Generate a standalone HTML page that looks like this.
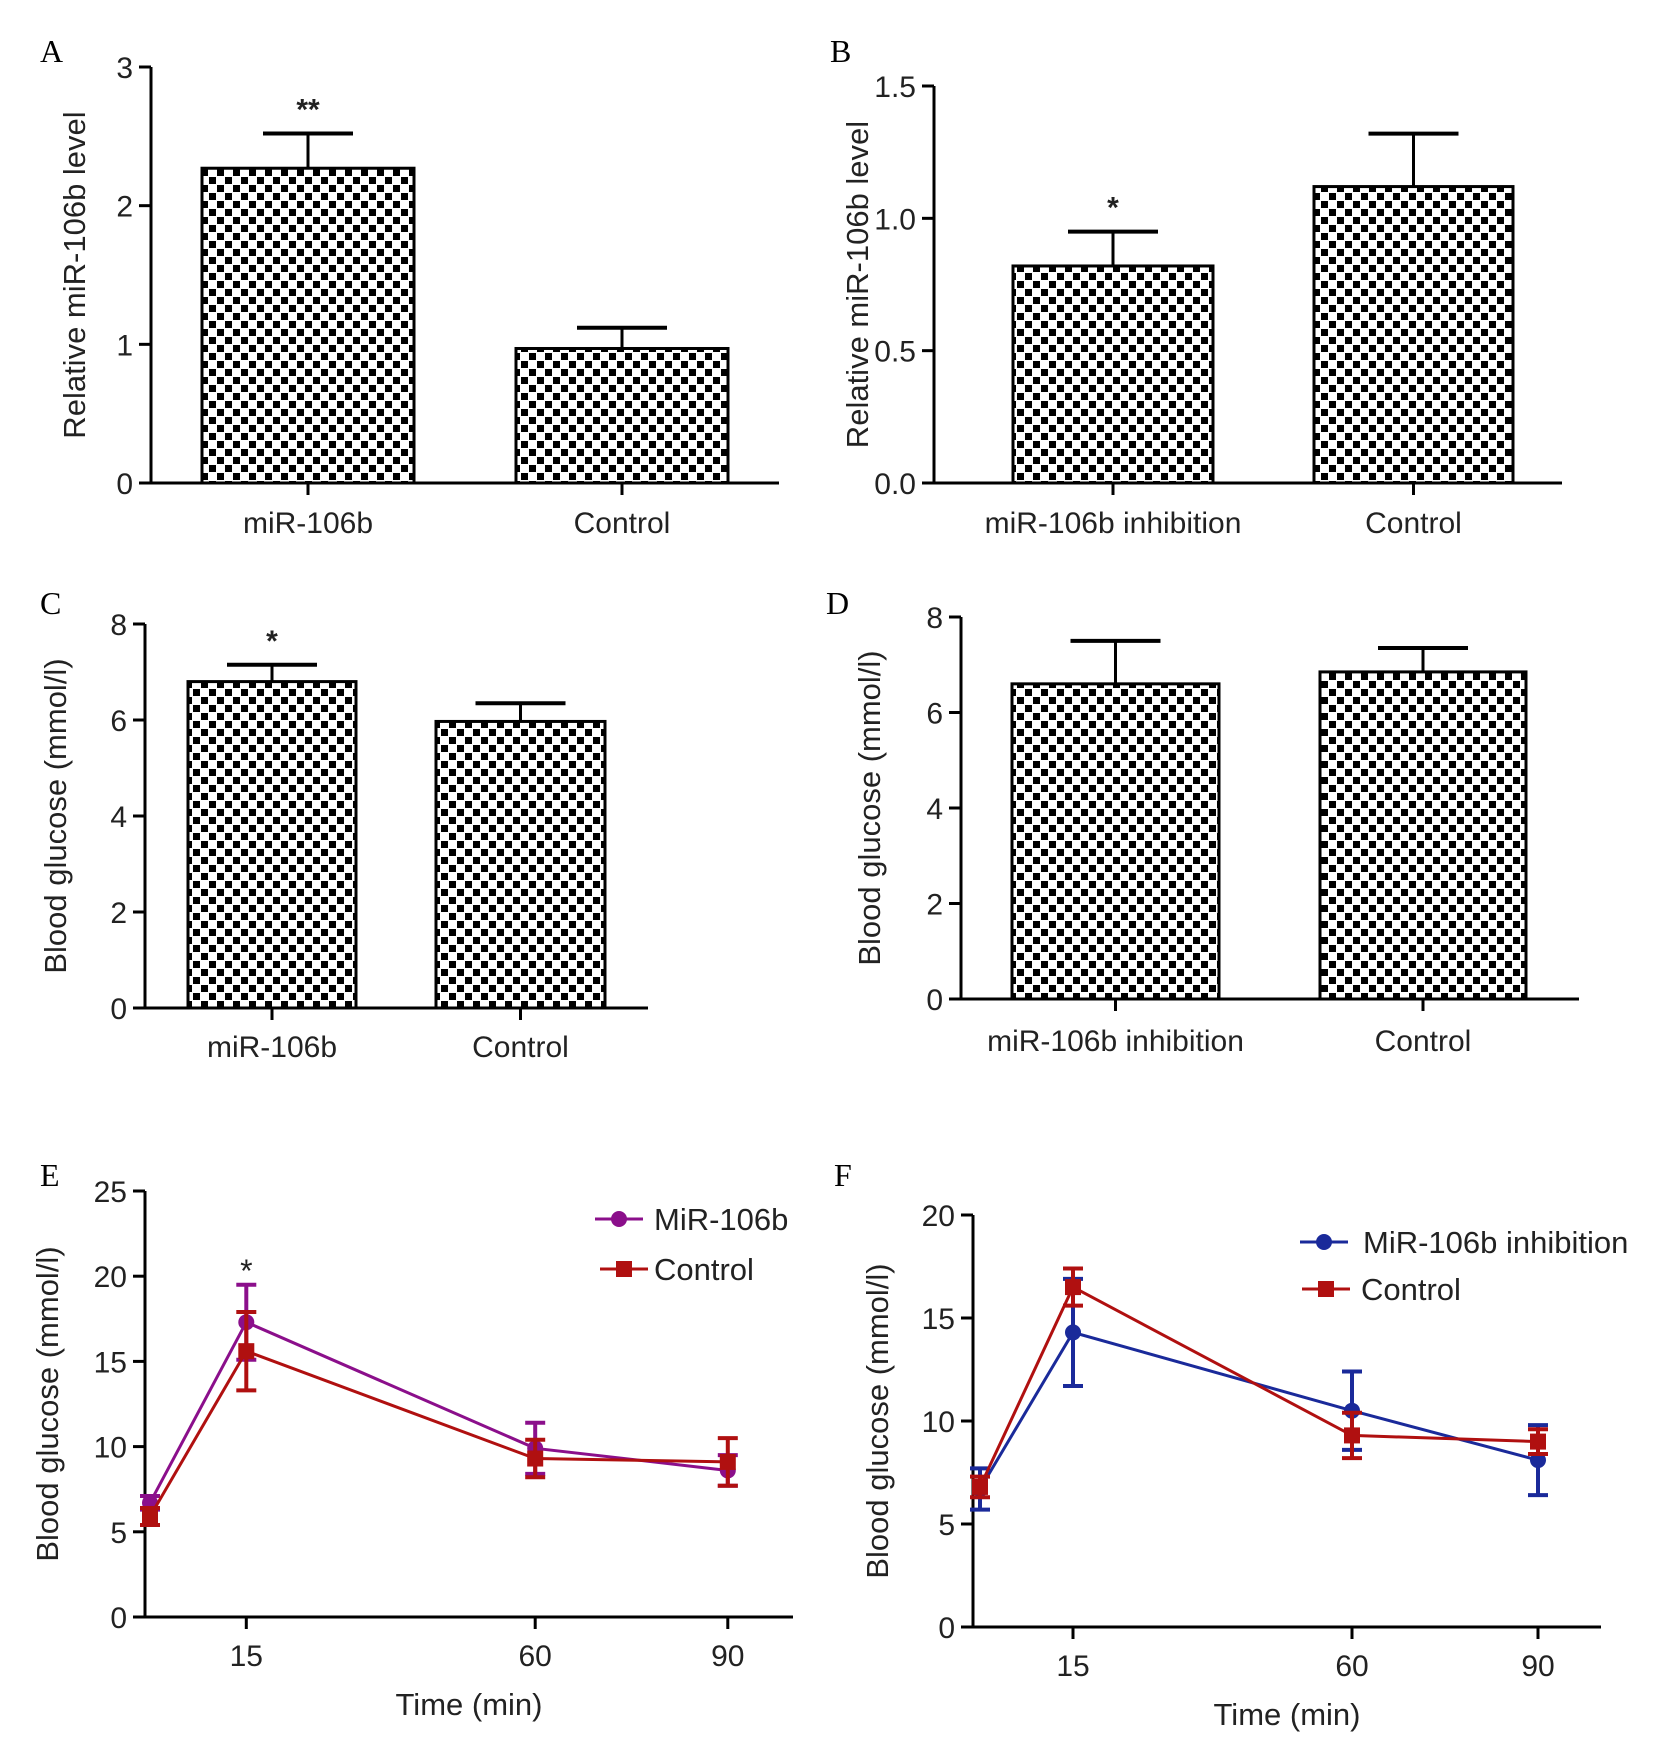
<!DOCTYPE html>
<html><head><meta charset="utf-8"><style>
body{margin:0;background:#fff}
svg{display:block;font-family:"Liberation Sans",sans-serif}
.lt{font-family:"Liberation Serif",serif;font-size:32px}
</style></head><body>
<svg id="fig" width="1677" height="1748" viewBox="0 0 1677 1748" xmlns="http://www.w3.org/2000/svg">
<defs>
<pattern id="chk" width="16" height="16" patternUnits="userSpaceOnUse">
<rect width="16" height="16" fill="#fff"/>
<rect x="1" y="1" width="7" height="7" fill="#000"/>
<rect x="9" y="9" width="7" height="7" fill="#000"/>
</pattern>
</defs>
<g id="root"></g>
</svg>
<script>
const catsA=["miR-106b","Control"];const valsA=[2.27,0.97];const errsA=[2.52,1.12];const ticksA=[0,1,2,3];
const catsB=["miR-106b inhibition","Control"];const valsB=[0.82,1.12];const errsB=[0.95,1.32];const ticksB=["0.0","0.5","1.0","1.5"];
const catsC=["miR-106b","Control"];const valsC=[6.8,5.97];const errsC=[7.15,6.35];const ticksC=[0,2,4,6,8];
const catsD=["miR-106b inhibition","Control"];const valsD=[6.6,6.85];const errsD=[7.5,7.35];const ticksD=[0,2,4,6,8];
const timesE=[0,15,60,90];const mirE=[6.7,17.3,9.9,8.6];const mirErrE=[0.4,2.2,1.5,0.9];const ctlE=[5.9,15.6,9.3,9.1];const ctlErrE=[0.5,2.3,1.1,1.4];const ticksE=[0,5,10,15,20,25];
const timesF=[0,15,60,90];const inhF=[6.7,14.3,10.5,8.1];const inhErrF=[1.0,2.6,1.9,1.7];const ctlF=[6.8,16.5,9.3,9.0];const ctlErrF=[0.5,0.9,1.1,0.6];const ticksF=[0,5,10,15,20];
const xTicks=[15,60,90];
const NS="http://www.w3.org/2000/svg";const root=document.getElementById('root');
function mk(tag,attrs,parent,txt){const e=document.createElementNS(NS,tag);for(const k in attrs)e.setAttribute(k,attrs[k]);if(txt!==undefined)e.textContent=txt;(parent||root).appendChild(e);return e;}
function panelLetter(t,x,y){const e=mk('text',{x:x,y:y,class:'lt'},root,t);

}
function yAxis(g,ax,y0,y1,max,ticks,title,titleX,xEnd){
const ys=v=>y0-(v/max)*(y0-y1);
const a=mk('line',{x1:ax,y1:y1,x2:ax,y2:y0,stroke:'#000','stroke-width':3},g);

const b=mk('line',{x1:ax-12,y1:y0,x2:xEnd,y2:y0,stroke:'#000','stroke-width':3},g);

ticks.forEach(t=>{const v=parseFloat(t);const y=ys(v);
mk('line',{x1:ax-12,y1:y,x2:ax,y2:y,stroke:'#000','stroke-width':3},g);
const tl=mk('text',{x:ax-18,y:y+11,'text-anchor':'end','font-size':30,fill:'#222'},g,String(t));
});
const tt=mk('text',{x:titleX,y:(y0+y1)/2,'text-anchor':'middle','font-size':31,fill:'#222',transform:`rotate(-90 ${titleX} ${(y0+y1)/2})`},g,title);

return ys;}
function barChart(id,cats,vals,errs,ticks,max,ax,y0,y1,xEnd,bars,title,titleX,labY,stars){
const g=mk('g',{},root);
const ys=yAxis(g,ax,y0,y1,max,ticks,title,titleX,xEnd);
cats.forEach((c,i)=>{const [l,r]=bars[i];const cx=(l+r)/2;const top=ys(vals[i]);const et=ys(errs[i]);
const el=mk('line',{x1:cx,y1:top,x2:cx,y2:et,stroke:'#000','stroke-width':3},g);

mk('line',{x1:cx-45,y1:et,x2:cx+45,y2:et,stroke:'#000','stroke-width':4},g);
const b=mk('rect',{x:l,y:top,width:r-l,height:y0-top,fill:'url(#chk)',stroke:'#000','stroke-width':3},g);

mk('line',{x1:cx,y1:y0,x2:cx,y2:y0+12,stroke:'#000','stroke-width':3},g);
const t=mk('text',{x:cx,y:labY,'text-anchor':'middle','font-size':30,fill:'#222'},g,c);

if(stars[i]){const s=mk('text',{x:cx,y:et-14,'text-anchor':'middle','font-size':30,'font-weight':'bold',fill:'#222'},g,stars[i]);
}});}
barChart('a',catsA,valsA,errsA,ticksA,3,151,483,67,779,[[202,414],[516,728]],'Relative miR-106b level',85,533,['**','']);
barChart('b',catsB,valsB,errsB,ticksB,1.5,934,483,86,1562,[[1013,1213],[1314,1513]],'Relative miR-106b level',868,533,['*','']);
barChart('c',catsC,valsC,errsC,ticksC,8,145,1008,624,648,[[188,356],[436,605]],'Blood glucose (mmol/l)',66,1057,['*','']);
barChart('d',catsD,valsD,errsD,ticksD,8,961,999,617,1579,[[1012,1219],[1320,1526]],'Blood glucose (mmol/l)',880,1051,['','']);
panelLetter('A',40,62);panelLetter('B',830,62);panelLetter('C',40,614);panelLetter('D',826,614);
function lineChart(id,times,series,ticks,max,ax,x0,pxPerMin,y0,y1,xEnd,title,titleX,labY,xlabY,legend,star){
const g=mk('g',{},root);
const ys=yAxis(g,ax,y0,y1,max,ticks,title,titleX,xEnd);const xs=t=>x0+t*pxPerMin;
xTicks.forEach(t=>{mk('line',{x1:xs(t),y1:y0,x2:xs(t),y2:y0+12,stroke:'#000','stroke-width':3},g);
const tl=mk('text',{x:xs(t),y:labY,'text-anchor':'middle','font-size':30,fill:'#222'},g,String(t));
});
const xt=mk('text',{x:(ax+xEnd)/2,y:xlabY,'text-anchor':'middle','font-size':31,fill:'#222'},g,'Time (min)');

series.forEach((s,si)=>{const pts=times.map((t,i)=>xs(t)+','+ys(s.vals[i])).join(' ');
const pl=mk('polyline',{points:pts,fill:'none',stroke:s.color,'stroke-width':3},g);

times.forEach((t,i)=>{const x=xs(t),y=ys(s.vals[i]),e1=ys(s.vals[i]+s.errs[i]),e2=ys(s.vals[i]-s.errs[i]);
const eb=mk('path',{d:`M${x},${e1}V${e2}M${x-10},${e1}H${x+10}M${x-10},${e2}H${x+10}`,stroke:s.color,'stroke-width':4,fill:'none'},g);

let m;if(s.shape==='circle')m=mk('circle',{cx:x,cy:y,r:8,fill:s.color},g);else m=mk('rect',{x:x-8,y:y-8,width:16,height:16,fill:s.color},g);
});
const [lx,ly,tx]=legend[si];
const lg=mk('g',{},g);
mk('line',{x1:lx,y1:ly,x2:lx+48,y2:ly,stroke:s.color,'stroke-width':3},lg);
if(s.shape==='circle')mk('circle',{cx:lx+24,cy:ly,r:8,fill:s.color},lg);else mk('rect',{x:lx+16,y:ly-8,width:16,height:16,fill:s.color},lg);
mk('text',{x:tx,y:ly+11,'font-size':31,fill:'#222'},lg,s.label);});
if(star){const st=mk('text',{x:xs(star),y:1282,'text-anchor':'middle','font-size':32,fill:'#222'},g,'*');
}}
lineChart('e',timesE,[{key:'mir-106b',label:'MiR-106b',vals:mirE,errs:mirErrE,color:'#8b0f8b',shape:'circle'},{key:'control',label:'Control',vals:ctlE,errs:ctlErrE,color:'#b01010',shape:'square'}],ticksE,25,145,150,6.42,1617,1191,793,'Blood glucose (mmol/l)',58,1666,1715,[[595,1219,654],[600,1269,654]],15);
lineChart('f',timesF,[{key:'mir-106b-inhibition',label:'MiR-106b inhibition',vals:inhF,errs:inhErrF,color:'#1a2a9a',shape:'circle'},{key:'control',label:'Control',vals:ctlF,errs:ctlErrF,color:'#b01010',shape:'square'}],ticksF,20,973,980,6.2,1627,1215,1601,'Blood glucose (mmol/l)',888,1676,1725,[[1300,1242,1363],[1302,1289,1361]],null);
panelLetter('E',40,1186);panelLetter('F',834,1186);
</script>
</body></html>
